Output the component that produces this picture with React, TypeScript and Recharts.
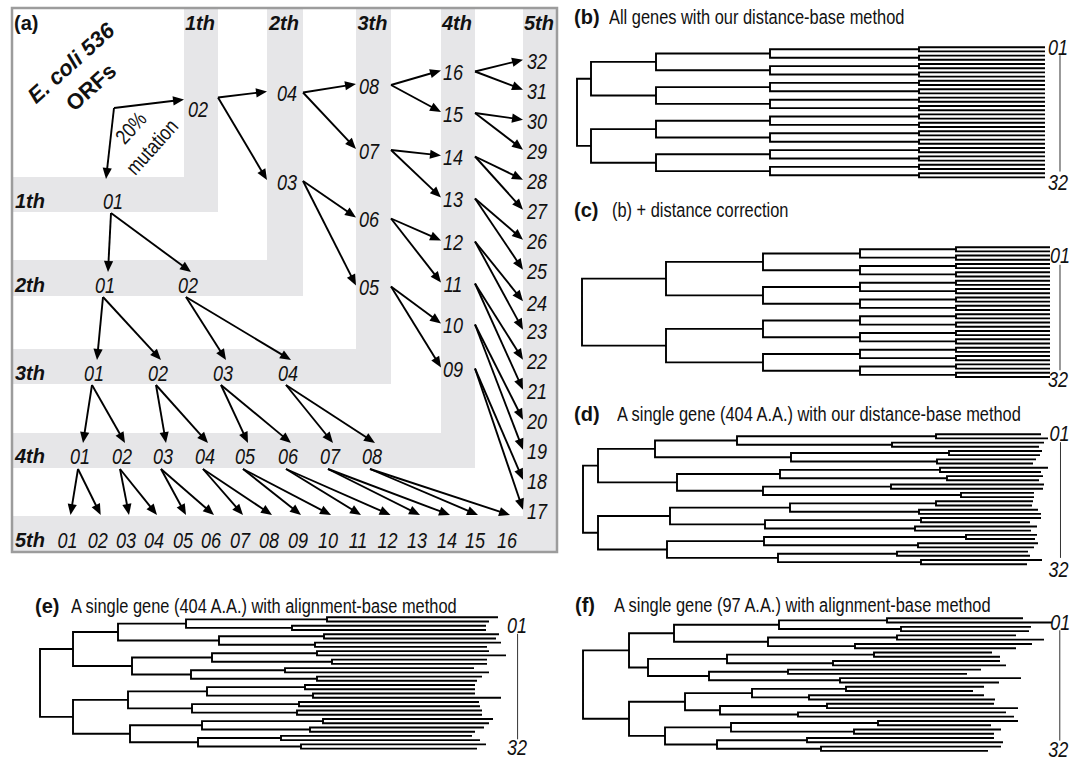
import React from 'react';
import { ComposedChart, Line, Scatter, XAxis, YAxis, ReferenceArea, ReferenceLine } from 'recharts';

const SANS = "'Liberation Sans', Arial, sans-serif";
const NARROW_X = 0.82; // horizontal condensing to mimic a narrow sans face

// ---------- panel (a): generation diagram ----------
const GEN_NAMES = ['1th', '2th', '3th', '4th', '5th'];
const ROW_GEN_Y = [201, 285, 373, 456, 540];
const ROW_NODE_X = [
  [113],
  [105, 188],
  [94, 158, 223, 288],
  [80, 122, 163, 205, 245, 288, 330, 372],
  [67.5, 97.7, 126, 154, 183, 211, 240, 269, 298, 328, 358, 387.5, 417, 447, 475, 507],
];
const COL_GEN_X = [198, 287, 369, 453, 537];
const COL_NODE_Y = [
  [109.5],
  [93.5, 182],
  [86, 151, 219.5, 287.5],
  [72.5, 114, 157.5, 199.5, 242.5, 284.5, 325.5, 369.5],
  [61.7, 91.7, 121.7, 151.7, 181.7, 211.7, 241.7, 271.7, 303.3, 331.7, 361.7, 391.7, 421.7, 451.7, 481.7, 511.7],
];
const BAND_COL_X = [[184, 218], [267, 303], [356, 391], [441, 475], [523, 557]];
const BAND_ROW_Y = [[177, 212], [260, 296], [349, 384], [433, 468], [516, 552]];
const SEED = { x: 114, y: 108 };

// ---------- dendrogram data (branch depth from root) ----------
const bDepth = [0, 14, 79, 193, 342];
const bTip = 468;
const cDepth = [0, 84, 181, 278, 374];
const cTip = 468;

const dL2 = [15, 15];
const dL3 = [72, 94, 87, 84];
const dL4 = [154, 208, 197, 180, 207, 182, 181, 195];
const dL5 = [353, 309, 366, 354, 357, 364, 308, 378, 353, 336, 338, 332, 383, 335, 314, 338];
const dTips = [458, 465, 461, 456, 459, 457, 453, 450, 465, 458, 460, 456, 461, 460, 451, 451, 450, 449, 455, 458, 458, 447, 454, 448, 454, 452, 455, 451, 445, 447, 459, 444];

const eL2 = [33, 33];
const eL3 = [78, 92, 88, 90];
const eL4 = [146, 179, 172, 151, 167, 152, 162, 158];
const eL5 = [287, 252, 284, 275, 277, 292, 245, 277, 265, 273, 259, 257, 283, 270, 241, 261];
const eTips = [458, 449, 446, 446, 459, 456, 461, 447, 449, 466, 447, 447, 434, 449, 442, 437, 435, 435, 435, 461, 439, 440, 442, 442, 453, 449, 444, 435, 432, 440, 446, 437];

const fL2 = [46, 46];
const fL3 = [91, 65, 102, 82];
const fL4 = [196, 185, 144, 126, 169, 137, 148, 134];
const fL5 = [304, 318, 314, 272, 291, 250, 205, 257, 263, 226, 244, 215, 295, 271, 224, 238];
const fTips = [440, 469, 448, 446, 433, 461, 449, 433, 409, 417, 417, 423, 398, 384, 438, 416, 401, 390, 401, 412, 411, 435, 423, 431, 435, 408, 418, 411, 411, 420, 418, 405];

const pad2 = (n: number) => (n < 10 ? '0' + n : '' + n);

function uniformLevels(depth: number[]) {
  return depth.map((d, k) => Array(2 ** k).fill(d));
}

function buildTree(levels: number[][], tips: number[]) {
  const pts: { x: number; y: number | null }[] = [];
  const rec = (lv: number, i: number): { x: number; y: number } => {
    if (lv === levels.length) return { x: tips[i], y: i + 1 };
    const a = rec(lv + 1, 2 * i);
    const b = rec(lv + 1, 2 * i + 1);
    const x = levels[lv][i];
    pts.push({ x: a.x, y: a.y }, { x, y: a.y }, { x, y: b.y }, { x: b.x, y: b.y }, { x, y: null });
    return { x, y: (a.y + b.y) / 2 };
  };
  rec(0, 0);
  return pts;
}

const Arrow = (p: any) => {
  const { x1, y1, x2, y2 } = p;
  const dx = x2 - x1, dy = y2 - y1;
  const len = Math.hypot(dx, dy) || 1;
  const ux = dx / len, uy = dy / len;
  const L = 11, W = 4.6;
  const bx = x2 - ux * L, by = y2 - uy * L;
  return (
    <g>
      <line x1={x1} y1={y1} x2={bx + ux} y2={by + uy} stroke="#000" strokeWidth={1.9} />
      <polygon points={`${x2},${y2} ${bx - uy * W},${by + ux * W} ${bx + uy * W},${by - ux * W}`} fill="#000" />
    </g>
  );
};

const NarrowItalic = (p: any) => (
  <text transform={`translate(${p.cx},${p.cy}) scale(${NARROW_X},1)`} x={0} y={0} textAnchor="middle" dominantBaseline="central" fontFamily={SANS} fontStyle="italic" fontSize={22} fill="#111">
    {p.payload.t}
  </text>
);
const GenTopLabel = (p: any) => (
  <text x={p.cx} y={p.cy} textAnchor="middle" dominantBaseline="central" fontFamily={SANS} fontStyle="italic" fontWeight="bold" fontSize={20} fill="#111">
    {p.payload.t}
  </text>
);
const GenLeftLabel = (p: any) => (
  <text x={p.cx} y={p.cy} textAnchor="start" dominantBaseline="central" fontFamily={SANS} fontStyle="italic" fontWeight="bold" fontSize={20} fill="#111">
    {p.payload.t}
  </text>
);
const PanelTag = (p: any) => (
  <text x={p.cx} y={p.cy} textAnchor="start" dominantBaseline="central" fontFamily={SANS} fontWeight="bold" fontSize={20} fill="#111">
    {p.payload.t}
  </text>
);
const RotText = (p: any) => (
  <text transform={`translate(${p.cx},${p.cy}) rotate(${p.payload.rot}) scale(${p.payload.sx},1)`} x={0} y={0} textAnchor="middle" dominantBaseline="central" fontFamily={SANS} fontWeight={p.payload.bold ? 'bold' : 'normal'} fontStyle={p.payload.italic ? 'italic' : 'normal'} fontSize={p.payload.size} fill="#111">
    {p.payload.t}
  </text>
);

function PanelA() {
  const rowLabels: any[] = [];
  ROW_NODE_X.forEach((xs, g) => xs.forEach((x, i) => rowLabels.push({ x, y: ROW_GEN_Y[g], t: pad2(i + 1) })));
  const colLabels: any[] = [];
  COL_NODE_Y.forEach((ys, g) => ys.forEach((y, i) => colLabels.push({ x: COL_GEN_X[g], y, t: pad2(2 ** (g + 1) - i) })));

  const arrows: { a: { x: number; y: number }; b: { x: number; y: number } }[] = [];
  arrows.push({ a: SEED, b: { x: BAND_COL_X[0][0], y: COL_NODE_Y[0][0] - 10 } });
  arrows.push({ a: SEED, b: { x: ROW_NODE_X[0][0] - 7, y: BAND_ROW_Y[0][0] + 2 } });
  for (let g = 0; g < 4; g++) {
    ROW_NODE_X[g].forEach((px, i) => {
      [2 * i, 2 * i + 1].forEach((j) => {
        const cx = ROW_NODE_X[g + 1][j];
        const ey = g + 1 === 4 ? BAND_ROW_Y[4][0] - 1 : ROW_GEN_Y[g + 1] - 13;
        arrows.push({ a: { x: px - 2, y: BAND_ROW_Y[g][1] + 1 }, b: { x: cx + 3, y: ey } });
      });
    });
    COL_NODE_Y[g].forEach((py, i) => {
      [2 * i, 2 * i + 1].forEach((j) => {
        const cy = COL_NODE_Y[g + 1][j];
        arrows.push({ a: { x: BAND_COL_X[g][1], y: py - (g === 0 ? 12 : 1) }, b: { x: BAND_COL_X[g + 1][0], y: cy - 2 } });
      });
    });
  }

  const topGen = GEN_NAMES.map((t, g) => ({ x: (BAND_COL_X[g][0] + BAND_COL_X[g][1]) / 2 - 1, y: 23, t }));
  const leftGen = GEN_NAMES.map((t, g) => ({ x: 15, y: ROW_GEN_Y[g], t }));

  return (
    <div style={{ position: 'absolute', left: 0, top: 0 }}>
      <ComposedChart width={560} height={560} margin={{ top: 0, right: 0, bottom: 0, left: 0 }}>
        <XAxis type="number" dataKey="x" domain={[0, 560]} hide />
        <YAxis type="number" dataKey="y" domain={[0, 560]} reversed hide />
        {BAND_COL_X.map((bx, g) => (
          <ReferenceArea key={'c' + g} x1={bx[0]} x2={bx[1]} y1={8} y2={BAND_ROW_Y[g][1]} fill="#e6e6e8" fillOpacity={1} stroke="none" ifOverflow="visible" />
        ))}
        {BAND_ROW_Y.map((by, g) => (
          <ReferenceArea key={'r' + g} x1={12} x2={BAND_COL_X[g][1]} y1={by[0]} y2={by[1]} fill="#e6e6e8" fillOpacity={1} stroke="none" ifOverflow="visible" />
        ))}
        <ReferenceArea x1={12} x2={557} y1={8} y2={552} fill="none" fillOpacity={0} stroke="#9c9c9c" strokeWidth={2.5} ifOverflow="visible" />
        {arrows.map((ar, k) => (
          <ReferenceLine key={'a' + k} segment={[ar.a, ar.b]} shape={Arrow} ifOverflow="visible" />
        ))}
        <Scatter data={rowLabels} shape={NarrowItalic} isAnimationActive={false} />
        <Scatter data={colLabels} shape={NarrowItalic} isAnimationActive={false} />
        <Scatter data={topGen} shape={GenTopLabel} isAnimationActive={false} />
        <Scatter data={leftGen} shape={GenLeftLabel} isAnimationActive={false} />
        <Scatter data={[{ x: 14, y: 23, t: '(a)' }]} shape={PanelTag} isAnimationActive={false} />
        <Scatter
          data={[
            { x: 71, y: 63, t: 'E. coli 536', rot: -42, size: 22, bold: true, italic: true, sx: 1 },
            { x: 91, y: 87, t: 'ORFs', rot: -42, size: 22, bold: true, italic: false, sx: 1 },
            { x: 131, y: 128, t: '20%', rot: -48, size: 21, bold: false, italic: false, sx: NARROW_X },
            { x: 152, y: 147, t: 'mutation', rot: -48, size: 21, bold: false, italic: false, sx: NARROW_X },
          ]}
          shape={RotText}
          isAnimationActive={false}
        />
      </ComposedChart>
    </div>
  );
}

function Dendro(props: {
  levels: number[][];
  tips: number[];
  rootPx: number;
  leaf1: number;
  leaf32: number;
  lab1: [number, number];
  lab32: [number, number];
  vx: number;
  vy: [number, number];
}) {
  const { levels, tips, rootPx, leaf1, leaf32, lab1, lab32, vx, vy } = props;
  const s = (leaf32 - leaf1) / 31;
  const XMAX = 495, ML = 5, MT = 12;
  const data = buildTree(levels, tips);
  const h = 34 * s + 2 * MT;
  const labels = [
    { x: lab1[0], y: lab1[1], t: '01' },
    { x: lab32[0], y: lab32[1], t: '32' },
  ];
  return (
    <div style={{ position: 'absolute', left: rootPx - ML, top: leaf1 - s - MT }}>
      <ComposedChart width={XMAX + ML} height={h} data={data} margin={{ top: MT, bottom: MT, left: ML, right: 0 }}>
        <XAxis type="number" dataKey="x" domain={[0, XMAX]} hide />
        <YAxis type="number" dataKey="y" domain={[0, 34]} reversed hide />
        <Line dataKey="y" stroke="#000" strokeWidth={1.9} dot={false} activeDot={false} isAnimationActive={false} connectNulls={false} />
        <ReferenceLine segment={[{ x: vx, y: vy[0] }, { x: vx, y: vy[1] }]} stroke="#333" strokeWidth={1} ifOverflow="visible" />
        <Scatter data={labels} shape={NarrowItalic} isAnimationActive={false} />
      </ComposedChart>
    </div>
  );
}

function Title({ tagLeft, textLeft, cy, tag, text }: { tagLeft: number; textLeft: number; cy: number; tag: string; text: string }) {
  const base: React.CSSProperties = { position: 'absolute', top: cy - 10, fontSize: 20, lineHeight: '20px', whiteSpace: 'nowrap', color: '#111', fontFamily: SANS };
  return (
    <>
      <div style={{ ...base, left: tagLeft, fontWeight: 'bold' }}>{tag}</div>
      <div style={{ ...base, left: textLeft, transform: `scaleX(${NARROW_X})`, transformOrigin: '0 50%' }}>{text}</div>
    </>
  );
}

export default function App() {
  return (
    <div style={{ position: 'absolute', left: 0, top: 0, width: 1083, height: 761, background: '#fff', overflow: 'hidden' }}>
      <PanelA />

      <Title tagLeft={574} textLeft={609} cy={17} tag="(b)" text="All genes with our distance-base method" />
      <Dendro levels={uniformLevels(bDepth)} tips={Array(32).fill(bTip)} rootPx={577} leaf1={47.6} leaf32={177.8}
        lab1={[481, 1.1]} lab32={[481, 33.1]} vx={483} vy={[2.9, 30.6]} />

      <Title tagLeft={574} textLeft={612} cy={210} tag="(c)" text="(b) + distance correction" />
      <Dendro levels={uniformLevels(cDepth)} tips={Array(32).fill(cTip)} rootPx={582} leaf1={247.2} leaf32={377}
        lab1={[478, 2.9]} lab32={[476, 32.5]} vx={478} vy={[5.2, 30.4]} />

      <Title tagLeft={574} textLeft={617} cy={414} tag="(d)" text="A single gene (404 A.A.) with our distance-base method" />
      <Dendro levels={[[0], dL2, dL3, dL4, dL5]} tips={dTips} rootPx={582.5} leaf1={434.5} leaf32={564.5}
        lab1={[476.5, 0.9]} lab32={[475.5, 33.2]} vx={477.5} vy={[2.9, 30.5]} />

      <Title tagLeft={35} textLeft={71} cy={606} tag="(e)" text="A single gene (404 A.A.) with alignment-base method" />
      <Dendro levels={[[0], eL2, eL3, eL4, eL5]} tips={eTips} rootPx={40} leaf1={617.6} leaf32={749}
        lab1={[477, 3.0]} lab32={[477, 31.8]} vx={477.6} vy={[4.9, 29.8]} />

      <Title tagLeft={575} textLeft={614} cy={605} tag="(f)" text="A single gene (97 A.A.) with alignment-base method" />
      <Dendro levels={[[0], fL2, fL3, fL4, fL5]} tips={fTips} rootPx={582.7} leaf1={618.2} leaf32={750.8}
        lab1={[477.3, 1.9]} lab32={[475.3, 31.6]} vx={476.8} vy={[3.8, 29.6]} />
    </div>
  );
}
